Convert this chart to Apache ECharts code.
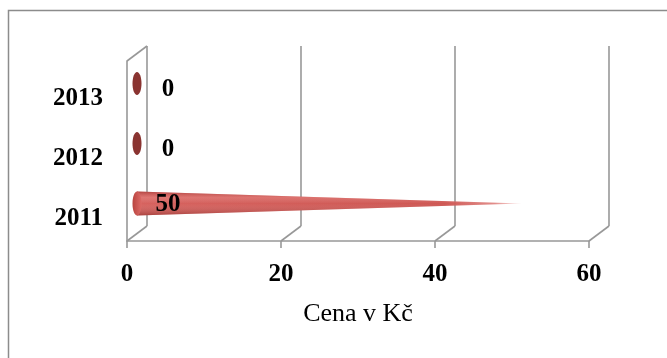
<!DOCTYPE html>
<html>
<head>
<meta charset="utf-8">
<script src="https://cdn.jsdelivr.net/npm/echarts@6/dist/echarts.min.js"></script>
<style>
  html, body { margin: 0; padding: 0; background: #fff; }
  #chart { width: 667px; height: 358px; }
</style>
</head>
<body>
<div id="chart"></div>
<script>
// Price per year
const years = ['2011', '2012', '2013'];
const prices = [50, 0, 0];
const xTicks = [0, 20, 40, 60];
const axisTitle = 'Cena v Kč';

// 3D wall depth (screen offset of the back plane)
const DX = 20, DY = -15;
const FONT = '"Liberation Serif", "Times New Roman", serif';
const LINE = '#989898';
const LW = 1.6;

function wallLine(x1, y1, x2, y2) {
  return { type: 'line', shape: { x1, y1, x2, y2 }, style: { stroke: LINE, lineWidth: LW }, z2: 0 };
}

// back-wall gridlines and floor diagonals, one per x tick
function renderWalls(params, api) {
  const cs = params.coordSys;
  const x = api.coord([api.value(0), 0])[0];
  const top = cs.y, bottom = cs.y + cs.height;
  const children = [
    wallLine(x + DX, top + DY, x + DX, bottom + DY),
    wallLine(x, bottom, x + DX, bottom + DY)
  ];
  if (params.dataIndex === 0) {
    children.push(wallLine(x, top, x + DX, top + DY));
  }
  return { type: 'group', children };
}

// cone bars, placed at half depth
function renderCone(params, api) {
  const cat = api.value(0);
  const v = api.value(1);
  const base = api.coord([0, cat]);
  const tip = api.coord([v, cat]);
  const bx = base[0] + DX / 2, by = base[1] + DY / 2;
  const tx = tip[0] + DX / 2;
  const R = 12, RX = 4.5;
  const children = [];
  if (v > 0) {
    children.push({
      type: 'polygon',
      shape: { points: [[bx, by - R], [tx, by], [bx, by + R]] },
      style: {
        fill: new echarts.graphic.LinearGradient(0, 0, 1, 0, [
          { offset: 0, color: '#d45a56' },
          { offset: 0.8, color: '#cc4f4b' },
          { offset: 0.93, color: 'rgba(214,96,92,0.75)' },
          { offset: 1, color: 'rgba(240,170,168,0.35)' }
        ])
      }
    });
    // vertical shading across the cone body
    children.push({
      type: 'polygon',
      shape: { points: [[bx, by - R], [tx, by], [bx, by + R]] },
      style: {
        fill: new echarts.graphic.LinearGradient(0, 0, 0, 1, [
          { offset: 0, color: 'rgba(120,30,28,0.35)' },
          { offset: 0.25, color: 'rgba(255,200,198,0.25)' },
          { offset: 0.5, color: 'rgba(255,255,255,0.05)' },
          { offset: 1, color: 'rgba(90,20,18,0.35)' }
        ])
      }
    });
    children.push({
      type: 'ellipse',
      shape: { cx: bx, cy: by, rx: RX, ry: R },
      style: {
        fill: new echarts.graphic.LinearGradient(0, 0, 1, 0, [
          { offset: 0, color: '#b9443f' },
          { offset: 1, color: '#dc6a66' }
        ])
      }
    });
  } else {
    children.push({
      type: 'ellipse',
      shape: { cx: bx, cy: by, rx: RX, ry: R - 0.5 },
      style: { fill: '#8a3431' }
    });
  }
  children.push({
    type: 'text',
    style: {
      text: String(v),
      x: bx + 31, y: by + (v > 0 ? 1 : 6.5),
      align: 'center', verticalAlign: 'middle',
      font: 'bold 25px ' + FONT,
      fill: '#000'
    },
    z2: 10
  });
  return { type: 'group', children };
}

const chart = echarts.init(document.getElementById('chart'), null, { renderer: 'canvas' });

chart.setOption({
  backgroundColor: '#fff',
  animation: false,
  graphic: [{
    type: 'rect',
    shape: { x: 8.5, y: 10.5, width: 700, height: 400 },
    style: { fill: 'none', stroke: '#8c8c8c', lineWidth: 1.5 },
    silent: true
  }],
  grid: { left: 127, right: 78, top: 61, bottom: 117 },
  xAxis: {
    type: 'value',
    min: 0, max: 60, interval: 20,
    name: axisTitle,
    nameLocation: 'middle',
    nameGap: 60,
    nameTextStyle: { fontFamily: FONT, fontSize: 26, color: '#000' },
    axisLine: { show: true, lineStyle: { color: LINE, width: LW } },
    axisTick: { show: true, length: 7, lineStyle: { color: LINE, width: LW } },
    splitLine: { show: false },
    axisLabel: {
      fontFamily: FONT, fontWeight: 'bold', fontSize: 25, color: '#000', margin: 21,
      formatter: function (val) { return xTicks.indexOf(val) >= 0 ? String(val) : ''; }
    }
  },
  yAxis: {
    type: 'category',
    data: years,
    axisLine: { show: true, lineStyle: { color: LINE, width: LW } },
    axisTick: { show: false },
    splitLine: { show: false },
    axisLabel: {
      margin: 24,
      formatter: function (val) { return '{y|' + val + '}'; },
      rich: {
        y: {
          fontFamily: FONT, fontWeight: 'bold', fontSize: 25, color: '#000',
          padding: [15, 0, 0, 0]
        }
      }
    }
  },
  series: [
    {
      type: 'custom',
      renderItem: renderWalls,
      data: xTicks.map(t => [t]),
      encode: { x: 0 },
      silent: true,
      z: 1
    },
    {
      type: 'custom',
      renderItem: renderCone,
      data: years.map((y, i) => [i, prices[i]]),
      encode: { y: 0, x: 1 },
      z: 3
    }
  ]
});
</script>
</body>
</html>
